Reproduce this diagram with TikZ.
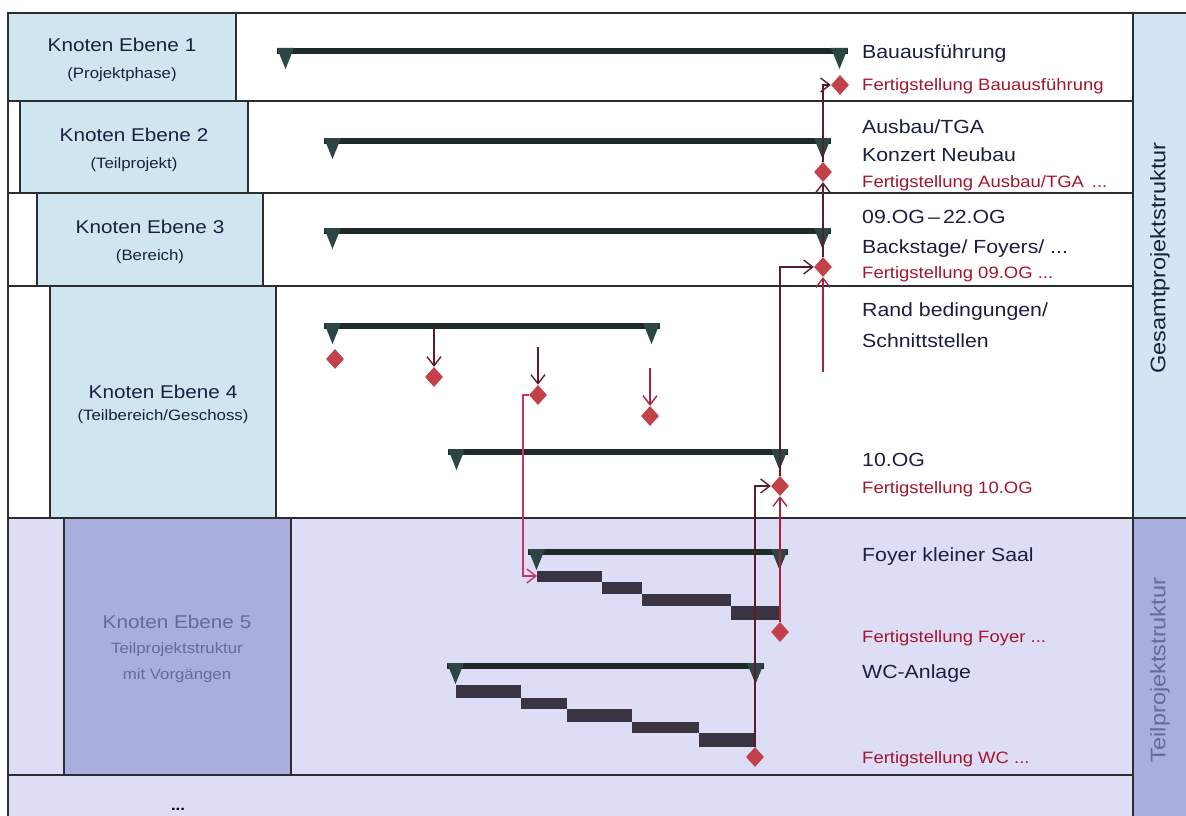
\documentclass[tikz,border=0pt]{standalone}
\usepackage{fontspec}
\setmainfont{Liberation Sans}[FakeStretch=1.12]
\usetikzlibrary{shapes.geometric,arrows.meta}
\definecolor{boxblue}{HTML}{CFE5F0}
\definecolor{stripblue}{HTML}{D3E5F2}
\definecolor{lav}{HTML}{DDDDF5}
\definecolor{lavdark}{HTML}{A9AEDC}
\definecolor{gridc}{HTML}{2A2E30}
\definecolor{barc}{HTML}{1E2A2A}
\definecolor{tric}{HTML}{2C4644}
\definecolor{taskc}{HTML}{3A3342}
\definecolor{msc}{HTML}{C3424A}
\definecolor{connc}{HTML}{5A1E2A}
\definecolor{connred}{HTML}{A8243C}
\definecolor{pinkc}{HTML}{D0306A}
\definecolor{navy}{HTML}{1A2040}
\definecolor{redtxt}{HTML}{A3162E}
\definecolor{graytxt}{HTML}{646C98}
\newcommand\sumbar[3]{%
  \fill[barc] (#1,#3-3) rectangle (#2,#3+3);
  \fill[tric] (#1,#3-3) -- (#1+17,#3-3) -- (#1+8.5,#3+18) -- cycle;
  \fill[tric] (#2-17,#3-3) -- (#2,#3-3) -- (#2-8.5,#3+18) -- cycle;
}
\newcommand\taskbar[4]{\fill[taskc] (#1,#2) rectangle (#3,#4);}
\tikzset{
  gridline/.style={draw=gridc, line width=1.8pt},
  lbox/.style={fill=boxblue, draw=gridc, line width=1.8pt},
  ms/.style={diamond, fill=msc, inner sep=0pt, minimum width=18pt, minimum height=20pt},
  conn/.style={draw=connc, line width=1.4pt, -{Straight Barb[length=9pt,width=14pt]}},
  connr/.style={draw=connred, line width=1.4pt, -{Straight Barb[length=9pt,width=14pt]}},
  connp/.style={draw=pinkc, line width=1.4pt, -{Straight Barb[length=9pt,width=14pt]}},
  lblk/.style={anchor=base west, inner sep=0pt, text=navy, font=\fontsize{19}{22}\selectfont},
  lred/.style={anchor=base west, inner sep=0pt, text=redtxt, font=\fontsize{16.5}{19}\selectfont},
  kmain/.style={anchor=base, inner sep=0pt, text=navy, font=\fontsize{18.5}{22}\selectfont},
  ksub/.style={anchor=base, inner sep=0pt, text=navy, font=\fontsize{15}{18}\selectfont},
}
\begin{document}
\begin{tikzpicture}[x=1pt,y=-1pt]
\useasboundingbox (0,0) rectangle (1186,816);
\fill[white] (0,0) rectangle (1186,816);
% backgrounds
\fill[lav] (8,518) rectangle (1133,816);
\fill[stripblue] (1133,13) rectangle (1186,518);
\fill[lavdark] (1133,518) rectangle (1186,816);
% left boxes
\draw[lbox] (8,13) rectangle (236,101);
\draw[lbox] (20,101) rectangle (248,193);
\draw[lbox] (37,193) rectangle (263,286);
\draw[lbox] (50,286) rectangle (276,518);
\draw[lbox, fill=lavdark] (64,518) rectangle (291,775);
% grid
\draw[gridline] (8,13) -- (1186,13);
\draw[gridline] (8,13) -- (8,816);
\foreach \yy in {101,193,286,518,775} \draw[gridline] (8,\yy) -- (1133,\yy);
\draw[gridline] (1133,13) -- (1133,816);
\draw[gridline] (1133,518) -- (1186,518);
% left texts
\node[kmain] (k1a) at (122,51.5) {Knoten Ebene 1};
\node[ksub]  (k1b) at (122,78) {(Projektphase)};
\node[kmain] (k2a) at (134,141.5) {Knoten Ebene 2};
\node[ksub]  (k2b) at (134,168) {(Teilprojekt)};
\node[kmain] (k3a) at (150,233.5) {Knoten Ebene 3};
\node[ksub]  (k3b) at (150,260) {(Bereich)};
\node[kmain] (k4a) at (163,398.5) {Knoten Ebene 4};
\node[ksub]  (k4b) at (163,420) {(Teilbereich/Geschoss)};
\node[kmain, text=graytxt] (k5a) at (177,628.5) {Knoten Ebene 5};
\node[ksub, text=graytxt]  (k5b) at (177,653) {Teilprojektstruktur};
\node[ksub, text=graytxt]  (k5c) at (177,679) {mit Vorgängen};
\node[anchor=base, inner sep=0pt, font=\bfseries\fontsize{15}{18}\selectfont] (dots) at (178,810) {...};
% right strip texts
\node[rotate=90, text=navy, font=\fontsize{21}{24}\selectfont] (gps) at (1160,258) {Gesamtprojektstruktur};
\node[rotate=90, text=graytxt, font=\fontsize{21}{24}\selectfont] (tps) at (1160,670) {Teilprojektstruktur};
% summary bars
\sumbar{277}{848}{51}
\sumbar{324}{831}{141}
\sumbar{324}{831}{231}
\sumbar{324}{660}{326}
\sumbar{448}{788}{452}
\sumbar{528}{788}{552}
\sumbar{447}{764}{666}
% tasks Foyer
\taskbar{537}{571}{602}{582}
\taskbar{602}{582}{642}{594}
\taskbar{642}{594}{731}{606}
\taskbar{731}{606}{780}{620}
% tasks WC
\taskbar{456}{685}{521}{698}
\taskbar{521}{698}{567}{709}
\taskbar{567}{709}{632}{722}
\taskbar{632}{722}{699}{733}
\taskbar{699}{733}{755}{747}
% milestones
\node[ms] (m1) at (840,85) {};
\node[ms] (m2) at (823,172) {};
\node[ms] (m3) at (823,267) {};
\node[ms] (mR1) at (335,359) {};
\node[ms] (mR2) at (434,377) {};
\node[ms] (mR3) at (538,395) {};
\node[ms] (mR4) at (650,416) {};
\node[ms] (m10) at (780,486) {};
\node[ms] (mF) at (780,632) {};
\node[ms] (mW) at (755,757) {};
% free ends
\coordinate (c1) at (823,372);
\coordinate (c2) at (538,347);
\coordinate (c3) at (650,368);
\coordinate (c4) at (434,329);
\coordinate (f1) at (537,576);
% connectors
\draw[conn] (m2.north) |- (m1.west);
\draw[conn] (m3.north) -- (m2.south);
\draw[connr] (c1) -- (m3.south);
\draw[conn] (m10.north) |- (m3.west);
\draw[connr] (mF.north) -- (m10.south);
\draw[conn] (mW.north) |- (m10.west);
\draw[conn] (c4) -- (mR2.north);
\draw[conn] (c2) -- (mR3.north);
\draw[connr] (c3) -- (mR4.north);
\draw[connp] (mR3.west) -- ++(-6,0) |- (f1);
% right labels
\node[lblk] (l1) at (862,58.5) {Bauausführung};
\node[lred] (l1r) at (862,90.7) {Fertigstellung Bauausführung};
\node[lblk] (l2a) at (862,133.5) {Ausbau/TGA};
\node[lblk] (l2b) at (862,161.5) {Konzert Neubau};
\node[lred] (l2r) at (862,187.7) {Fertigstellung Ausbau/TGA \,...};
\node[lblk] (l3a) at (862,223.5) {09.OG\,–\,22.OG};
\node[lblk] (l3b) at (862,253.5) {Backstage/ Foyers/ ...};
\node[lred] (l3r) at (862,278.7) {Fertigstellung 09.OG ...};
\node[lblk] (l4a) at (862,316.5) {Rand bedingungen/};
\node[lblk] (l4b) at (862,347.5) {Schnittstellen};
\node[lblk] (l4c) at (862,466.5) {10.OG};
\node[lred] (l4r) at (862,493.7) {Fertigstellung 10.OG};
\node[lblk] (l5a) at (862,561.5) {Foyer kleiner Saal};
\node[lred] (l5r) at (862,642.7) {Fertigstellung Foyer ...};
\node[lblk] (l5b) at (862,678.5) {WC-Anlage};
\node[lred] (l5w) at (862,763.7) {Fertigstellung WC ...};
\end{tikzpicture}
\end{document}
